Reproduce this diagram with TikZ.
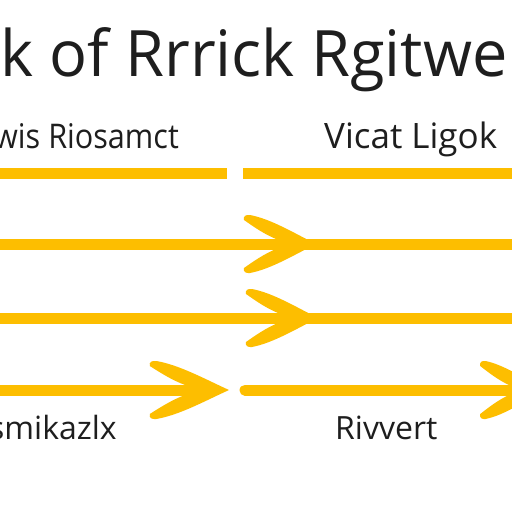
\documentclass[tikz,border=0pt]{standalone}
\usepackage{fontspec}
\setmainfont{Open Sans}
\definecolor{arrowyellow}{HTML}{FDBE00}
\definecolor{inkgrey}{HTML}{1E1E1E}
\begin{document}
\begin{tikzpicture}[x=1pt,y=-1pt,
  shaft/.style={draw=arrowyellow,line width=11pt},
  titletext/.style={inner sep=0pt,anchor=base west,text=inkgrey,font=\fontsize{64}{64}\selectfont},
  labeltext/.style={inner sep=0pt,anchor=base west,text=inkgrey,font=\fontsize{35}{35}\selectfont},
  smalltext/.style={inner sep=0pt,anchor=base west,text=inkgrey,font=\fontsize{32}{32}\selectfont},
  headpic/.pic={\fill[arrowyellow,line join=round]
     (-72,-24) .. controls (-73,-28) and (-70,-29.5) .. (-66,-29)
     .. controls (-45,-25) and (-22,-11) .. (0,0)
     .. controls (-22,11) and (-45,25) .. (-66,29)
     .. controls (-70,29.5) and (-73,28) .. (-72,24)
     .. controls (-62,17) and (-52,10) .. (-40,5) -- (-40,-5)
     .. controls (-52,-10) and (-62,-17) .. (-72,-24) -- cycle;}]
\useasboundingbox (0,0) rectangle (512,512);
\clip (0,0) rectangle (512,512);
\fill[white] (0,0) rectangle (512,512);
% title
\node[titletext,xscale=0.985] (title) at (0,76) {k of Rrrick Rgitwer};
% row labels
\node[labeltext,xscale=0.9,font=\fontsize{34}{34}\selectfont] (l1) at (-6,148) {wis Riosamct};
\node[labeltext] (r1) at (324,148) {Vicat Ligok};
\node[smalltext] (l4) at (-11,439) {smikazlx};
\node[smalltext] (r4) at (335,439) {Rivvert};
% coordinates
\coordinate (a1) at (-5,173);
\coordinate (b1) at (227,173);
\coordinate (c1) at (243,173);
\coordinate (d1) at (517,173);
\coordinate (a2) at (-5,244);
\coordinate (p2) at (316,244);
\coordinate (d2) at (517,244);
\coordinate (a3) at (-5,318);
\coordinate (p3) at (318,318);
\coordinate (d3) at (517,318);
\coordinate (a4) at (-5,390);
\coordinate (p4) at (229,390);
\coordinate (c4) at (245,390);
\coordinate (p5) at (545,390);
% row 1
\draw[shaft] (a1) -- (b1);
\draw[shaft] (c1) -- (d1);
% row 2
\draw[shaft] (a2) -- (d2);
\pic (h2) at (p2) {headpic};
% row 3
\draw[shaft] (a3) -- (d3);
\pic (h3) at (p3) {headpic};
% row 4
\draw[shaft] (a4) -- ([xshift=-20pt]p4);
\pic[xscale=1.1] (h4) at (p4) {headpic};
\draw[shaft,line cap=round] (c4) -- ([xshift=-20pt]p5);
\pic[xscale=0.9] (h5) at (p5) {headpic};
\end{tikzpicture}
\end{document}
